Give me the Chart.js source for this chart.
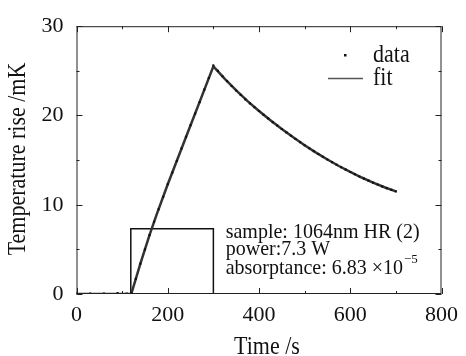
<!DOCTYPE html>
<html>
<head>
<meta charset="utf-8">
<script src="https://cdn.jsdelivr.net/npm/chart.js@4/dist/chart.umd.min.js"></script>
<style>
  html, body { margin: 0; padding: 0; background: #fff; }
  #wrap { width: 466px; height: 356px; }
</style>
</head>
<body>
<div id="wrap"><canvas id="heatChart"></canvas></div>
<script>
// measured points, every 10 s
var dataTime = [0, 10, 20, 30, 40, 50, 60, 70, 80, 90, 100, 110, 120,
  130, 140, 150, 160, 170, 180, 190, 200, 210, 220, 230, 240, 250, 260, 270, 280, 290, 300,
  310, 320, 330, 340, 350, 360, 370, 380, 390, 400, 410, 420, 430, 440, 450, 460, 470, 480, 490,
  500, 510, 520, 530, 540, 550, 560, 570, 580, 590, 600, 610, 620, 630, 640, 650, 660, 670, 680, 690, 700];
var dataTemp = [0.1, 0.0, -0.05, 0.05, -0.1, 0.0, 0.05, -0.05, 0.0, 0.1, -0.05, 0.05, 0.1,
  1.7, 3.4, 5.0, 6.6, 8.1, 9.5, 10.9, 12.3, 13.6, 14.9, 16.3, 17.6, 18.9, 20.2, 21.5, 22.9, 24.2, 25.6,
  25.0, 24.4, 23.85, 23.3, 22.8, 22.3, 21.8, 21.35, 20.92, 20.5, 20.08, 19.67, 19.26, 18.87, 18.48, 18.1, 17.73, 17.37, 17.02,
  16.67, 16.33, 16.0, 15.68, 15.37, 15.07, 14.77, 14.48, 14.2, 13.93, 13.67, 13.41, 13.17, 12.93, 12.7, 12.48, 12.27, 12.06, 11.86, 11.67, 11.5];

// fitted curve
var fitTime = [0, 120, 130, 140, 150, 160, 175, 200, 225, 250, 275, 300,
  325, 350, 375, 400, 425, 450, 475, 500, 525, 550, 575, 600, 625, 650, 675, 700];
var fitTemp = [0, 0, 1.7, 3.4, 5.0, 6.6, 8.8, 12.3, 15.6, 18.9, 22.2, 25.5,
  24.1, 22.8, 21.6, 20.5, 19.47, 18.48, 17.55, 16.67, 15.84, 15.07, 14.34, 13.67, 13.05, 12.48, 11.96, 11.49];

// heating power on/off trace
var pulseTime = [119, 119, 300, 300];
var pulseLevel = [0, 7.3, 7.3, 0];

var xMajor = [0, 200, 400, 600, 800];
var xMinor = [100, 300, 500, 700];
var yMajor = [0, 10, 20, 30];
var yMinor = [5, 15, 25];

var infoLines = ['sample: 1064nm HR (2)', 'power:7.3 W', 'absorptance: 6.83 \u00d710'];
var infoExp = '\u22125';

var serif = '"Liberation Serif", "DejaVu Serif", serif';

function toPoints(xs, ys) {
  var out = [];
  for (var i = 0; i < xs.length; i++) {
    out.push({ x: xs[i], y: ys[i] });
  }
  return out;
}

// text a little taller than wide, like the scanned figure
function tallText(ctx, text, x, y, stretch) {
  ctx.save();
  ctx.translate(x, y);
  ctx.scale(1, stretch);
  ctx.fillText(text, 0, 0);
  ctx.restore();
}

// frame, inward ticks, legend, notes and axis titles
var framePlugin = {
  id: 'frame',
  afterDatasetsDraw: function(chart) {
    var ctx = chart.ctx;
    var a = chart.chartArea;
    var xs = chart.scales.x;
    var ys = chart.scales.y;
    ctx.save();
    ctx.strokeStyle = '#222';
    ctx.lineWidth = 1;
    ctx.strokeRect(a.left + 0.5, a.top + 0.5, a.right - a.left - 1, a.bottom - a.top - 1);

    ctx.beginPath();
    xMajor.concat(xMinor).forEach(function(v, i) {
      var len = i < xMajor.length ? 6 : 3;
      var px = Math.round(xs.getPixelForValue(v)) + 0.5;
      ctx.moveTo(px, a.bottom); ctx.lineTo(px, a.bottom - len);
      ctx.moveTo(px, a.top); ctx.lineTo(px, a.top + len);
    });
    yMajor.concat(yMinor).forEach(function(v, i) {
      var len = i < yMajor.length ? 6 : 3;
      var py = Math.round(ys.getPixelForValue(v)) + 0.5;
      ctx.moveTo(a.left, py); ctx.lineTo(a.left + len, py);
      ctx.moveTo(a.right, py); ctx.lineTo(a.right - len, py);
    });
    ctx.stroke();

    // legend
    ctx.fillStyle = '#111';
    ctx.font = '22px ' + serif;
    ctx.textBaseline = 'middle';
    ctx.textAlign = 'left';
    ctx.fillRect(344, 54, 2.5, 2.5);
    tallText(ctx, 'data', 373, 56, 1.12);
    ctx.strokeStyle = '#555';
    ctx.lineWidth = 1.5;
    ctx.beginPath();
    ctx.moveTo(328, 78.5); ctx.lineTo(363, 78.5);
    ctx.stroke();
    tallText(ctx, 'fit', 373, 79, 1.12);

    // measurement notes
    ctx.font = '20px ' + serif;
    var tx = xs.getPixelForValue(327);
    var rows = [232, 249, 268];
    infoLines.forEach(function(t, i) {
      tallText(ctx, t, tx, rows[i], 1.1);
    });
    var w = ctx.measureText(infoLines[2]).width;
    ctx.font = '13px ' + serif;
    ctx.fillText(infoExp, tx + w + 1, rows[2] - 8);

    // axis titles
    ctx.font = '22px ' + serif;
    ctx.textAlign = 'center';
    tallText(ctx, 'Time /s', 267, 347, 1.15);
    ctx.translate(18, 159);
    ctx.rotate(-Math.PI / 2);
    tallText(ctx, 'Temperature rise /mK', 0, 0, 1.15);
    ctx.restore();
  }
};

var ctx = document.getElementById('heatChart').getContext('2d');
var heatChart = new Chart(ctx, {
  type: 'scatter',
  data: {
    datasets: [{
        label: 'data',
        data: toPoints(dataTime, dataTemp),
        showLine: false,
        pointRadius: 1.5,
        pointStyle: 'rect',
        pointBackgroundColor: '#111',
        pointBorderWidth: 0,
        order: 0
      },
      {
        label: 'fit',
        data: toPoints(fitTime, fitTemp),
        showLine: true,
        borderColor: '#333',
        borderWidth: 2.5,
        pointRadius: 0,
        tension: 0,
        order: 1
      },
      {
        label: 'power',
        data: toPoints(pulseTime, pulseLevel),
        showLine: true,
        borderColor: '#111',
        borderWidth: 1.5,
        pointRadius: 0,
        tension: 0,
        order: 2
      }
    ]
  },
  options: {
    responsive: true,
    maintainAspectRatio: false,
    animation: false,
    events: [],
    layout: {
      padding: { top: 18, right: 19, left: 0, bottom: 0 }
    },
    plugins: {
      legend: { display: false },
      tooltip: { enabled: false }
    },
    scales: {
      x: {
        type: 'linear',
        min: 0,
        max: 800,
        grid: { display: false, drawTicks: false },
        border: { display: false },
        afterFit: function(scale) { scale.height = 62; },
        afterBuildTicks: function(scale) {
          scale.ticks = xMajor.map(function(v) { return { value: v }; });
        },
        ticks: {
          color: '#111',
          padding: 8,
          maxRotation: 0,
          font: { family: serif, size: 22 }
        }
      },
      y: {
        type: 'linear',
        min: 0,
        max: 30,
        grid: { display: false, drawTicks: false },
        border: { display: false },
        afterFit: function(scale) { scale.width = 76.5; },
        afterBuildTicks: function(scale) {
          scale.ticks = yMajor.map(function(v) { return { value: v }; });
        },
        ticks: {
          color: '#111',
          padding: 13,
          font: { family: serif, size: 22 }
        }
      }
    }
  },
  plugins: [framePlugin]
});
</script>
</body>
</html>
